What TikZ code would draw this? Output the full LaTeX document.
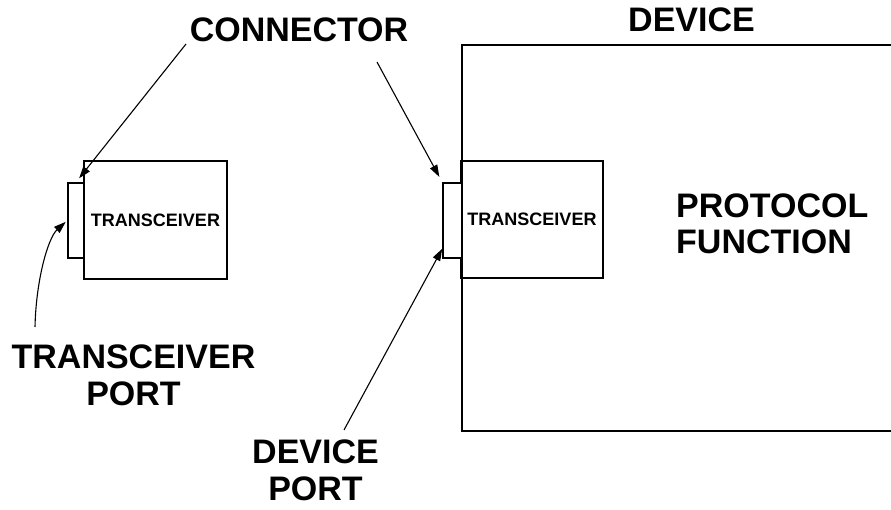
\documentclass[tikz,border=0pt]{standalone}
\usepackage{fontspec}
\setmainfont{Liberation Sans}
\usetikzlibrary{arrows.meta}
\begin{document}
\begin{tikzpicture}[x=1pt,y=-1pt,
  box/.style={draw,line width=1.6pt,inner sep=0pt,
    font=\fontsize{18}{20}\selectfont\bfseries},
  lbl/.style={inner sep=0pt,font=\fontsize{34}{36.5}\selectfont\bfseries,align=center},
  ptr/.style={line width=1.1pt,-{Triangle[length=12pt,width=8pt]}}]
\clip (0,0) rectangle (891,510);
% device enclosure (runs off the right edge)
\node[box,minimum width=470pt,minimum height=386pt,anchor=north west] (device) at (461,44) {};
% transceiver inside the device and its port
\node[box,minimum width=142pt,minimum height=117pt] (rxcv) at (532,219.5) {TRANSCEIVER};
\node[box,fill=white,minimum width=19pt,minimum height=75pt] (rport) at (452.5,220.5) {};
% stand-alone transceiver and its port
\node[box,minimum width=143pt,minimum height=118pt] (lxcv) at (155.5,220) {TRANSCEIVER};
\node[box,fill=white,minimum width=16pt,minimum height=75pt] (lport) at (76,220.5) {};
% labels (base anchor of a two-line label sits on its last line)
\node[lbl,anchor=base] (conn) at (299,42) {CONNECTOR};
\node[lbl,anchor=base] (dev) at (691.5,32) {DEVICE};
\node[lbl,align=left,anchor=base west] (proto) at (676,254) {PROTOCOL\\FUNCTION};
\node[lbl,anchor=base] (xport) at (133.5,405) {TRANSCEIVER\\PORT};
\node[lbl,anchor=base] (dport) at (315.5,500) {DEVICE\\PORT};
% leader arrows
\coordinate (c1) at (186,44);
\coordinate (c2) at (377,62);
\coordinate (c3) at (344,430);
\coordinate (c4) at (35,327);
\draw[ptr,shorten >=5pt] (c1) -- (lport.north);
\draw[ptr,shorten >=6pt] (c2) -- (rport.north west);
\draw[ptr] (c3) -- ([yshift=10pt]rport.south west);
\draw[ptr,shorten >=2pt] (c4) .. controls (36,280) and (48,238) .. (lport.west);
\end{tikzpicture}
\end{document}
